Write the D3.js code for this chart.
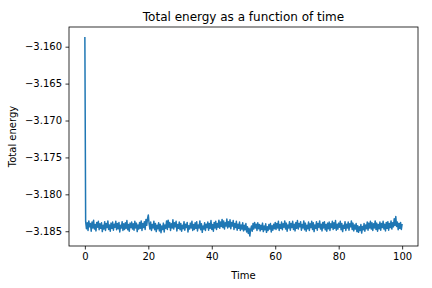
<!DOCTYPE html>
<html>
<head>
<meta charset="utf-8">
<script src="https://cdn.jsdelivr.net/npm/d3@7"></script>
<style>
  body { margin: 0; background: #fff; }
  text { font-family: "DejaVu Sans", sans-serif; fill: #000; }
</style>
</head>
<body>
<div id="vis"><svg></svg></div>
<script>
// sampling step of the time axis
var timeStep = 0.25;

// total energy (first sample is the initial spike)
var energy = [
  -3.15868,
  -3.18370, -3.18465, -3.18385, -3.18490, -3.18360, -3.18440, -3.18395, -3.18500, -3.18375, -3.18455, -3.18350, -3.18470, -3.18410, -3.18495, -3.18380, -3.18445, -3.18365, -3.18480, -3.18400, -3.18460,
  -3.18385, -3.18505, -3.18420, -3.18470, -3.18370, -3.18490, -3.18395, -3.18450, -3.18360, -3.18475, -3.18415, -3.18500, -3.18390, -3.18460, -3.18375, -3.18485, -3.18405, -3.18445, -3.18365, -3.18480,
  -3.18395, -3.18465, -3.18380, -3.18510, -3.18420, -3.18455, -3.18370, -3.18490, -3.18400, -3.18475, -3.18385, -3.18460, -3.18355, -3.18480, -3.18410, -3.18500, -3.18390, -3.18450, -3.18375, -3.18470,
  -3.18400, -3.18485, -3.18365, -3.18455, -3.18390, -3.18505, -3.18415, -3.18470, -3.18380, -3.18460, -3.18360, -3.18490, -3.18395, -3.18450, -3.18370, -3.18475, -3.18340, -3.18420, -3.18330, -3.18280,
  -3.18400, -3.18470, -3.18375, -3.18490, -3.18410, -3.18455, -3.18365, -3.18480, -3.18395, -3.18505, -3.18420, -3.18465, -3.18385, -3.18495, -3.18405, -3.18520, -3.18430, -3.18475, -3.18390, -3.18510,
  -3.18415, -3.18460, -3.18360, -3.18475, -3.18350, -3.18445, -3.18380, -3.18490, -3.18400, -3.18455, -3.18345, -3.18470, -3.18385, -3.18440, -3.18365, -3.18495, -3.18410, -3.18460, -3.18375, -3.18480,
  -3.18395, -3.18500, -3.18420, -3.18465, -3.18370, -3.18485, -3.18405, -3.18450, -3.18380, -3.18510, -3.18425, -3.18470, -3.18390, -3.18455, -3.18365, -3.18490, -3.18410, -3.18475, -3.18385, -3.18460,
  -3.18370, -3.18495, -3.18415, -3.18455, -3.18360, -3.18480, -3.18400, -3.18515, -3.18430, -3.18470, -3.18385, -3.18490, -3.18405, -3.18450, -3.18375, -3.18485, -3.18395, -3.18460, -3.18355, -3.18475,
  -3.18410, -3.18500, -3.18380, -3.18455, -3.18365, -3.18475, -3.18395, -3.18445, -3.18350, -3.18460, -3.18375, -3.18435, -3.18340, -3.18450, -3.18360, -3.18470, -3.18385, -3.18430, -3.18335, -3.18455,
  -3.18370, -3.18440, -3.18345, -3.18465, -3.18380, -3.18430, -3.18355, -3.18475, -3.18395, -3.18450, -3.18365, -3.18485, -3.18405, -3.18460, -3.18375, -3.18490, -3.18415, -3.18470, -3.18385, -3.18495,
  -3.18420, -3.18480, -3.18395, -3.18510, -3.18440, -3.18530, -3.18460, -3.18565, -3.18475, -3.18430, -3.18500, -3.18395, -3.18470, -3.18380, -3.18455, -3.18405, -3.18490, -3.18385, -3.18465, -3.18410,
  -3.18495, -3.18420, -3.18475, -3.18390, -3.18505, -3.18430, -3.18480, -3.18400, -3.18515, -3.18440, -3.18490, -3.18410, -3.18470, -3.18395, -3.18510, -3.18425, -3.18485, -3.18405, -3.18465, -3.18380,
  -3.18475, -3.18395, -3.18455, -3.18365, -3.18490, -3.18410, -3.18460, -3.18375, -3.18480, -3.18400, -3.18445, -3.18360, -3.18470, -3.18390, -3.18500, -3.18415, -3.18455, -3.18370, -3.18485, -3.18395,
  -3.18450, -3.18365, -3.18475, -3.18405, -3.18495, -3.18380, -3.18460, -3.18355, -3.18470, -3.18395, -3.18440, -3.18370, -3.18485, -3.18410, -3.18455, -3.18360, -3.18480, -3.18390, -3.18500, -3.18420,
  -3.18465, -3.18375, -3.18490, -3.18400, -3.18450, -3.18365, -3.18475, -3.18385, -3.18505, -3.18415, -3.18460, -3.18370, -3.18485, -3.18395, -3.18445, -3.18360, -3.18470, -3.18405, -3.18495, -3.18380,
  -3.18455, -3.18370, -3.18480, -3.18410, -3.18500, -3.18390, -3.18465, -3.18375, -3.18490, -3.18400, -3.18450, -3.18365, -3.18475, -3.18385, -3.18460, -3.18355, -3.18485, -3.18405, -3.18470, -3.18390,
  -3.18445, -3.18365, -3.18480, -3.18395, -3.18505, -3.18420, -3.18460, -3.18370, -3.18490, -3.18405, -3.18455, -3.18375, -3.18485, -3.18400, -3.18440, -3.18360, -3.18475, -3.18390, -3.18495, -3.18415,
  -3.18470, -3.18395, -3.18505, -3.18425, -3.18515, -3.18440, -3.18490, -3.18410, -3.18525, -3.18435, -3.18480, -3.18395, -3.18500, -3.18415, -3.18465, -3.18375, -3.18485, -3.18390, -3.18455, -3.18365,
  -3.18470, -3.18385, -3.18490, -3.18400, -3.18455, -3.18360, -3.18475, -3.18390, -3.18500, -3.18410, -3.18465, -3.18375, -3.18485, -3.18395, -3.18450, -3.18365, -3.18470, -3.18405, -3.18495, -3.18380,
  -3.18460, -3.18370, -3.18485, -3.18395, -3.18450, -3.18360, -3.18470, -3.18385, -3.18440, -3.18330, -3.18420, -3.18300, -3.18435, -3.18375, -3.18480, -3.18395, -3.18460, -3.18380, -3.18475, -3.18400
];

var xTicks = [0, 20, 40, 60, 80, 100];
var yTicks = [-3.160, -3.165, -3.170, -3.175, -3.180, -3.185];

var margin = {top: 27, right: 14, bottom: 42, left: 69},
    width = 432 - margin.left - margin.right,
    height = 288 - margin.top - margin.bottom;

var svg = d3.select("#vis").select("svg")
    .attr("width", 432)
    .attr("height", 288);

var g = svg.append("g")
    .attr("transform", "translate(" + margin.left + "," + margin.top + ")");

var data = energy.map((e, i) => ({t: i * timeStep, e: e}));

// matplotlib style 5% padding on both axes
var tExt = d3.extent(data, d => d.t), eExt = d3.extent(data, d => d.e);
var tPad = (tExt[1] - tExt[0]) * 0.05, ePad = (eExt[1] - eExt[0]) * 0.05;

var x = d3.scaleLinear()
    .domain([tExt[0] - tPad, tExt[1] + tPad])
    .range([0, width]);

var y = d3.scaleLinear()
    .domain([eExt[0] - ePad, eExt[1] + ePad])
    .range([height, 0]);

// the curve
g.append("path")
    .datum(data)
    .attr("fill", "none")
    .attr("stroke", "#1f77b4")
    .attr("stroke-width", 1.5)
    .attr("stroke-linejoin", "round")
    .attr("d", d3.line().x(d => x(d.t)).y(d => y(d.e)));

// axes
var xAxis = g.append("g")
    .attr("transform", "translate(0," + height + ")")
    .call(d3.axisBottom(x).tickValues(xTicks).tickFormat(d3.format("d"))
      .tickSizeInner(3.5).tickSizeOuter(0).tickPadding(3.5));

var yAxis = g.append("g")
    .call(d3.axisLeft(y).tickValues(yTicks).tickFormat(d3.format(".3f"))
      .tickSizeInner(3.5).tickSizeOuter(0).tickPadding(3.5));

[xAxis, yAxis].forEach(a => {
  a.select(".domain").remove();
  a.selectAll(".tick line").attr("stroke", "#000").attr("stroke-width", 0.8);
  a.selectAll(".tick text")
    .attr("font-family", "DejaVu Sans, sans-serif")
    .attr("font-size", 10)
    .attr("fill", "#000");
});

// frame
g.append("rect")
    .attr("width", width)
    .attr("height", height)
    .attr("fill", "none")
    .attr("stroke", "#000")
    .attr("stroke-width", 0.8);

// labels
svg.append("text")
    .attr("x", margin.left + width / 2)
    .attr("y", 21)
    .attr("text-anchor", "middle")
    .attr("font-size", 12)
    .text("Total energy as a function of time");

svg.append("text")
    .attr("x", margin.left + width / 2)
    .attr("y", 279)
    .attr("text-anchor", "middle")
    .attr("font-size", 10)
    .text("Time");

svg.append("text")
    .attr("transform", "translate(16," + (margin.top + height / 2) + ") rotate(-90)")
    .attr("text-anchor", "middle")
    .attr("font-size", 10)
    .text("Total energy");
</script>
</body>
</html>
